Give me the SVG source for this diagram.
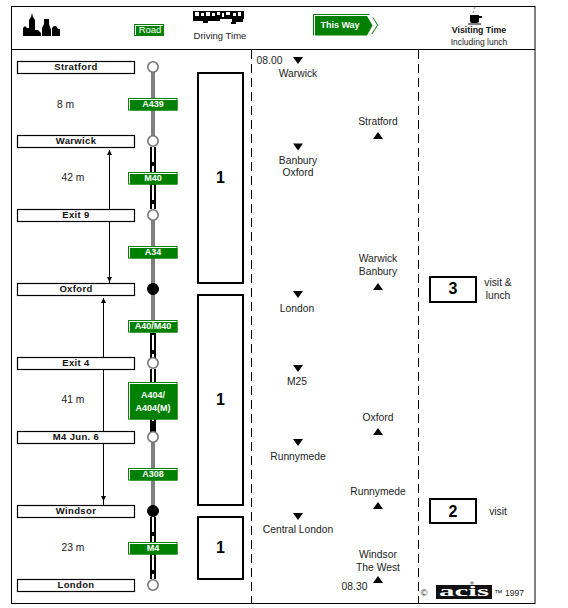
<svg xmlns="http://www.w3.org/2000/svg" width="568" height="608" viewBox="0 0 568 608">
<style>
text{font-family:"Liberation Sans",Arial,sans-serif;fill:#222;font-size:10.3px;text-anchor:middle}
.place{fill:#fff;stroke:#000;stroke-width:1.2}
.pt{font-weight:bold;font-size:9.5px;fill:#111;letter-spacing:.35px}
.town{fill:#fff;stroke:#777;stroke-width:1.6}
.hub{fill:#000;stroke:#000;stroke-width:1}
.grey{stroke:#808080;stroke-width:4;fill:none}
.mwb{stroke:#000;stroke-width:6;fill:none}
.mww{stroke:#fff;stroke-width:2;fill:none;stroke-dasharray:15 4}
.sg{fill:#008000}
.so{fill:#fff;stroke:#008000;stroke-width:1}
.st{fill:#fff;font-weight:bold;font-size:9px}
.big{fill:#fff;stroke:#000;stroke-width:2}
.num{font-weight:bold;font-size:16px;fill:#000}
.dash{stroke:#000;stroke-width:1;fill:none;stroke-dasharray:9 5}
.frame{stroke:#000;stroke-width:1;fill:none}
.arr{stroke:#000;stroke-width:1;fill:none}
.both{marker-start:url(#a);marker-end:url(#a)}
</style>
<defs>
<marker id="a" markerUnits="userSpaceOnUse" markerWidth="6" markerHeight="6" refX="5" refY="2.500" orient="auto-start-reverse"><path d="M0 0L5 2.500L0 5Z" fill="#000"/></marker>
<path id="dn" d="M-5 0H5L0 7Z" fill="#000"/>
<path id="up" d="M-5 7H5L0 0Z" fill="#000"/>
</defs>
<rect width="568" height="608" fill="#fff"/>
<g id="frame">
<rect class="frame" x="11.500" y="6.500" width="523.500" height="597"/>
<path class="frame" d="M11.500 49.500H535"/>
<path class="dash" d="M251.500 50V603"/>
<path class="dash" d="M418.500 50V603"/>
</g>
<g id="header">
<path id="skyline" d="M23 36V28L25 26L27 28H29V20L31 17L32 13L33 17L35 20V30H38L41 33V36H42V28L44 24V19H49V24L51 30V36H52V28L54 26H56L58 29H60V36Z" fill="#000"/>
<g id="road-key"><rect class="so" x="134.500" y="24.500" width="29" height="11"/><rect class="sg" x="136" y="26" width="28" height="10"/><text class="st" x="150" y="33" style="font-size:9.500px;font-weight:normal">Road</text></g>
<g id="bus"><rect x="193" y="11" width="51" height="8" fill="#000"/><path d="M195 12h4v4h-4zM201 13h3v3h-3zM206 12h4v4h-4zM212 13h3v3h-3zM217 12h3v3h-3zM222 13h2v4h-2zM226 12h4v3h-4zM233 13h3v3h-3zM238 12h3v4h-3z" fill="#fff"/><path d="M193 19h27v2h-27zM203 21h5v2h-5zM232 19h11v3h-11zM231 22h5v2h-5z" fill="#000"/></g>
<text x="220" y="39" style="font-size:9.500px">Driving Time</text>
<g id="this-way"><path d="M313.500 35.500V14.500H369.500M373 17.500L377.500 25L372 34" fill="none" stroke="#008000"/><path d="M315 35.500V16H367L372.500 25.500L367 35.500Z" fill="#008000"/><text class="st" x="340" y="28">This Way</text></g>
<g id="cup"><path d="M470 15H479V21Q479 23 477 23H472Q470 23 470 21Z M479 16H482V18H479Z" fill="#000"/><rect x="468" y="23.500" width="13" height="1" fill="#000"/><path d="M473 13L474 11M474 9L475 7" stroke="#444" stroke-width=".7" fill="none"/></g>
<text x="479" y="33" style="font-weight:bold;font-size:8.800px;fill:#111">Visiting Time</text>
<text x="479" y="45" style="font-size:8.500px">Including lunch</text>
</g>
<g id="connectors">
<path class="grey" d="M153 67V141"/>
<path class="mwb" d="M153 147V209"/><path class="mww" d="M153 147V209"/>
<path class="grey" d="M153 215V289"/><path class="grey" d="M153 289V320"/>
<path class="mwb" d="M153 333V358"/><path class="mww" d="M153 335V358"/>
<path class="mwb" d="M153 369V432"/><path class="mww" d="M153 369V421" stroke-dasharray="30 4"/>
<path class="grey" d="M153 437V511"/>
<path class="mwb" d="M153 517V579"/><path class="mww" d="M153 517V579"/>
<path class="arr both" d="M109.500 150V282"/>
<path class="arr" d="M109.500 282V283.500"/>
<path class="arr both" d="M103.500 298V501"/>
<path class="arr" d="M103.500 501V505.500"/>
</g>
<g id="n-stratford"><rect class="place" x="17.500" y="61.500" width="117" height="12"/><text class="pt" x="76" y="70">Stratford</text></g>
<g id="n-warwick"><rect class="place" x="17.500" y="135.500" width="117" height="12"/><text class="pt" x="76" y="144">Warwick</text></g>
<g id="n-exit9"><rect class="place" x="17.500" y="209.500" width="117" height="12"/><text class="pt" x="76" y="218">Exit 9</text></g>
<g id="n-oxford"><rect class="place" x="17.500" y="283.500" width="117" height="12"/><text class="pt" x="76" y="292">Oxford</text></g>
<g id="n-exit4"><rect class="place" x="17.500" y="357.500" width="117" height="12"/><text class="pt" x="76" y="366">Exit 4</text></g>
<g id="n-m4j6"><rect class="place" x="17.500" y="431.500" width="117" height="12"/><text class="pt" x="76" y="440">M4 Jun. 6</text></g>
<g id="n-windsor"><rect class="place" x="17.500" y="505.500" width="117" height="12"/><text class="pt" x="76" y="514">Windsor</text></g>
<g id="n-london"><rect class="place" x="17.500" y="579.500" width="117" height="12"/><text class="pt" x="76" y="588">London</text></g>
<g id="stops">
<circle class="town" cx="153" cy="67" r="5.200"/><circle class="town" cx="153" cy="141" r="5.200"/><circle class="town" cx="153" cy="215" r="5.200"/><circle class="hub" cx="153" cy="289" r="5.500"/><circle class="town" cx="153" cy="363" r="5.200"/><circle class="town" cx="153" cy="437" r="5.200"/><circle class="hub" cx="153" cy="511" r="5.500"/><circle class="town" cx="153" cy="585" r="5.200"/>
</g>
<g id="signs">
<g id="s-a439"><rect class="so" x="128.500" y="98.500" width="48.500" height="11.500"/><rect class="sg" x="130" y="100" width="47.500" height="10.500"/><text class="st" x="153" y="107">A439</text></g>
<g id="s-m40"><rect class="so" x="128.500" y="172.500" width="48.500" height="11.500"/><rect class="sg" x="130" y="174" width="47.500" height="10.500"/><text class="st" x="153" y="181">M40</text></g>
<g id="s-a34"><rect class="so" x="128.500" y="246.500" width="48.500" height="11.500"/><rect class="sg" x="130" y="248" width="47.500" height="10.500"/><text class="st" x="153" y="255">A34</text></g>
<g id="s-a40"><rect class="so" x="128.500" y="320.500" width="48.500" height="11.500"/><rect class="sg" x="130" y="322" width="47.500" height="10.500"/><text class="st" x="153" y="329">A40/M40</text></g>
<g id="s-a404"><rect class="so" x="128.500" y="382.500" width="48.500" height="36.500"/><rect class="sg" x="130" y="384" width="47.500" height="35.500"/><text class="st" x="153" y="398">A404/</text><text class="st" x="153" y="411">A404(M)</text></g>
<g id="s-a308"><rect class="so" x="128.500" y="468.500" width="48.500" height="11.500"/><rect class="sg" x="130" y="470" width="47.500" height="10.500"/><text class="st" x="153" y="477">A308</text></g>
<g id="s-m4"><rect class="so" x="128.500" y="542.500" width="48.500" height="11.500"/><rect class="sg" x="130" y="544" width="47.500" height="10.500"/><text class="st" x="153" y="551">M4</text></g>
</g>
<g id="distances">
<text x="65.500" y="108">8 m</text><text x="73" y="181">42 m</text><text x="73" y="403">41 m</text><text x="73" y="551">23 m</text>
</g>
<g id="b1"><rect class="big" x="198" y="73" width="45" height="210"/><text class="num" x="220.500" y="183">1</text></g>
<g id="b2"><rect class="big" x="198" y="295" width="45" height="210"/><text class="num" x="220.500" y="405">1</text></g>
<g id="b3"><rect class="big" x="198" y="517" width="45" height="62"/><text class="num" x="220.500" y="553">1</text></g>
<g id="v1"><rect class="big" x="430" y="277" width="46" height="25"/><text class="num" x="453" y="294">3</text></g>
<g id="v2"><rect class="big" x="430" y="499" width="46" height="24"/><text class="num" x="453" y="517">2</text></g>
<g id="westbound">
<use href="#dn" x="298" y="57"/><use href="#dn" x="298" y="143.500"/><use href="#dn" x="298" y="291"/><use href="#dn" x="298" y="365"/><use href="#dn" x="298" y="439"/><use href="#dn" x="298" y="513"/>
<text x="269.500" y="64">08.00</text><text x="298" y="77">Warwick</text><text x="298" y="164">Banbury</text><text x="298" y="176">Oxford</text><text x="297" y="312">London</text><text x="297" y="385">M25</text><text x="298" y="460">Runnymede</text><text x="298" y="533">Central London</text>
</g>
<g id="eastbound">
<use href="#up" x="378" y="132"/><use href="#up" x="378" y="283"/><use href="#up" x="378" y="428"/><use href="#up" x="378" y="502"/><use href="#up" x="378" y="576"/>
<text x="378" y="125">Stratford</text><text x="378" y="262">Warwick</text><text x="378" y="275">Banbury</text><text x="378" y="421">Oxford</text><text x="378" y="495">Runnymede</text><text x="378" y="558">Windsor</text><text x="378" y="571">The West</text><text x="354.500" y="590">08.30</text>
</g>
<g id="visit-notes"><text x="498" y="286">visit &amp;</text><text x="498" y="299">lunch</text><text x="498" y="515">visit</text></g>
<g id="logo">
<text x="424" y="596" style="font-size:9px">©</text>
<rect x="436" y="585" width="56" height="14" fill="#111"/>
<text x="464" y="596" textLength="50" lengthAdjust="spacingAndGlyphs" style="font-family:'Liberation Serif',serif;font-weight:bold;font-size:15px;fill:#fff">acis</text>
<circle cx="472" cy="583" r="1.800" fill="#999"/>
<text x="509" y="596" style="font-size:8.500px">™ 1997</text>
</g>
</svg>
